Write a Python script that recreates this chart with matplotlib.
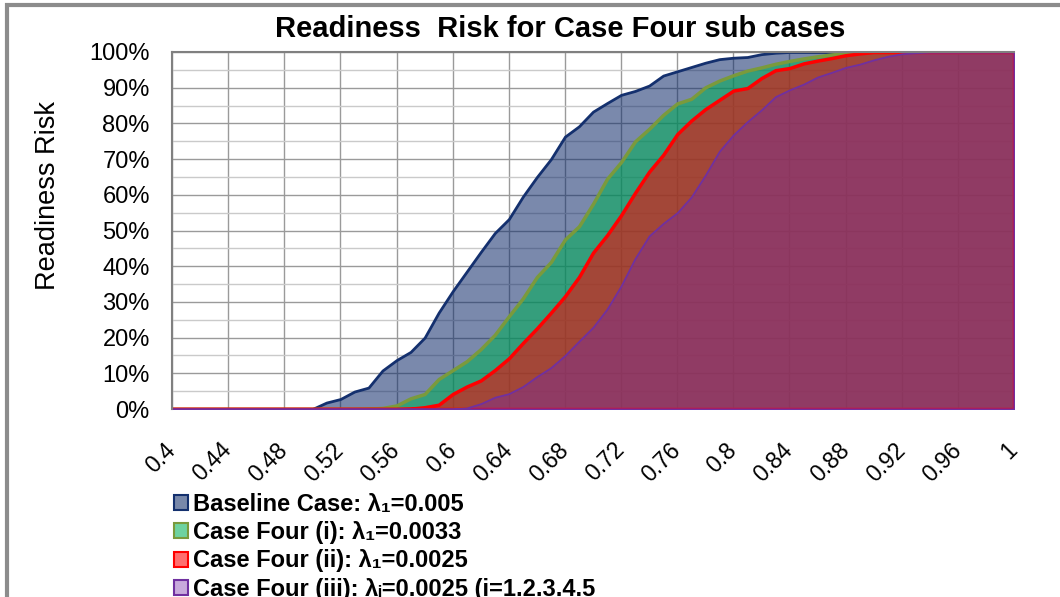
import matplotlib.pyplot as plt
from matplotlib.patches import Patch, Rectangle

# readiness level (x) and cumulative readiness risk in % for each case
readiness = [0.40, 0.41, 0.42, 0.43, 0.44, 0.45, 0.46, 0.47, 0.48, 0.49,
             0.50, 0.51, 0.52, 0.53, 0.54, 0.55, 0.56, 0.57, 0.58, 0.59,
             0.60, 0.61, 0.62, 0.63, 0.64, 0.65, 0.66, 0.67, 0.68, 0.69,
             0.70, 0.71, 0.72, 0.73, 0.74, 0.75, 0.76, 0.77, 0.78, 0.79,
             0.80, 0.81, 0.82, 0.83, 0.84, 0.85, 0.86, 0.87, 0.88, 0.89,
             0.90, 0.91, 0.92, 0.93, 0.94, 0.95, 0.96, 0.97, 0.98, 0.99,
             1.00]

baseline = [0.0] * 11 + [1.8, 2.8, 4.9, 6.0, 10.8, 13.7, 16.0, 20.0, 27.0,
            33.0, 38.5, 44.0, 49.3, 53.2, 59.5, 65.0, 70.0, 76.3, 79.2,
            83.3, 85.7, 88.0, 89.1, 90.6, 93.4, 94.6, 95.8, 97.0, 98.0,
            98.4, 98.6, 99.4, 99.8] + [100.0] * 17

case_i = [0.0] * 14 + [0.1, 0.3, 1.0, 3.0, 4.2, 8.4,
          10.9, 13.4, 16.8, 20.8, 26.0, 31.0, 37.0, 41.2, 47.5, 51.2,
          57.5, 64.5, 69.2, 75.0, 78.5, 82.4, 85.6, 86.9, 90.1, 92.0,
          93.5, 94.8, 95.7, 96.7, 97.5, 98.2, 98.8, 99.3, 99.7] + [100.0] * 12

case_ii = [0.0] * 17 + [0.1, 0.5, 1.2,
           4.2, 6.3, 8.0, 10.9, 14.2, 18.5, 22.6, 27.0, 31.6, 37.0,
           43.8, 48.7, 54.3, 60.6, 66.5, 71.2, 77.0, 80.8, 84.0, 86.6,
           89.2, 89.9, 92.7, 94.9, 95.5, 96.8, 97.6, 98.3, 99.1, 99.6] + [100.0] * 11

case_iii = [0.0] * 21 + [0.3, 1.5, 3.3, 4.3, 6.3, 9.1, 11.6, 15.0, 19.0,
            22.9, 28.0, 34.5, 42.2, 48.5, 52.0, 55.0, 59.4, 65.5, 72.2,
            76.8, 80.5, 83.8, 87.5, 89.4, 91.0, 93.0, 94.3, 95.7, 96.6,
            97.8, 98.8, 99.5, 99.8] + [100.0] * 7

labels = ["Baseline Case: λ₁=0.005",
          "Case Four (i): λ₁=0.0033",
          "Case Four (ii): λ₁=0.0025",
          "Case Four (iii): λᵢ=0.0025 (i=1.2.3.4.5"]
fills = [(0.05, 0.16, 0.41, 0.55), (0.0, 0.69, 0.34, 0.56),
         (1.0, 0.0, 0.0, 0.55), (0.46, 0.165, 0.655, 0.40)]
edges = ['#14306e', '#7a9a3c', '#ff0000', '#7030a0']
widths = [2.0, 2.5, 2.5, 1.3]
legend_faces = ['#7888aa', '#6ed2a0', '#ff6e6e', '#c8aadc']

xtick_vals = [0.4, 0.44, 0.48, 0.52, 0.56, 0.6, 0.64, 0.68, 0.72, 0.76,
              0.8, 0.84, 0.88, 0.92, 0.96, 1.0]
xtick_labels = ['0.4', '0.44', '0.48', '0.52', '0.56', '0.6', '0.64', '0.68',
                '0.72', '0.76', '0.8', '0.84', '0.88', '0.92', '0.96', '1']
ytick_vals = [0, 10, 20, 30, 40, 50, 60, 70, 80, 90, 100]
ytick_labels = ['0%', '10%', '20%', '30%', '40%', '50%', '60%', '70%',
                '80%', '90%', '100%']

plt.rcParams['font.family'] = ['Liberation Sans', 'DejaVu Sans']

fig = plt.figure(figsize=(10.6, 5.97), dpi=100)
W, H = 1060, 597
ax = fig.add_axes([172 / W, 1 - 409 / H, (1014 - 172) / W, (409 - 52) / H])

series = [baseline, case_i, case_ii, case_iii]
for vals, fc, ec, lw in zip(series, fills, edges, widths):
    ax.fill_between(readiness, 0, vals, facecolor=fc, edgecolor=ec,
                    linewidth=lw, zorder=2)

ax.set_xlim(0.4, 1.0)
ax.set_ylim(0, 100)
ax.set_xticks(xtick_vals)
ax.set_xticklabels(xtick_labels, rotation=45, ha='right', va='center',
                   rotation_mode='anchor', fontsize=16.5)
ax.set_yticks(ytick_vals)
ax.set_yticklabels(ytick_labels, fontsize=17)
ax.set_yticks(range(5, 100, 10), minor=True)
ax.tick_params(axis='x', length=0, pad=27)
ax.tick_params(axis='y', which='both', length=0, pad=16)
ax.set_axisbelow(True)
ax.grid(axis='x', color='#9a9a9a', linewidth=1)
ax.grid(axis='y', which='major', color='#9a9a9a', linewidth=1)
ax.grid(axis='y', which='minor', color='#cacaca', linewidth=1)
for s in ['top', 'left']:
    ax.spines[s].set_color('#808080')
    ax.spines[s].set_linewidth(1.5)
for s in ['bottom', 'right']:
    ax.spines[s].set_visible(False)

fig.text(560 / W, 1 - 29 / H, 'Readiness  Risk for Case Four sub cases',
         ha='center', va='center', fontsize=21, fontweight='bold')
fig.text(48 / W, 1 - 196 / H, 'Readiness Risk', rotation=90,
         ha='center', va='center', fontsize=19.5)

handles = [Patch(facecolor=f, edgecolor=e, linewidth=1.5)
           for f, e in zip(legend_faces, edges)]
fig.legend(handles, labels, loc='upper left',
           bbox_to_anchor=(174 / W, 1 - 493 / H), frameon=False,
           borderpad=0, borderaxespad=0, handlelength=0.6, handleheight=0.6,
           handletextpad=0.22, labelspacing=0.22,
           prop={'family': ['Liberation Sans', 'DejaVu Sans'],
                 'weight': 'bold', 'size': 17})

# outer chart frame
fig.add_artist(Rectangle((7 / W, -0.01), 1.1, 1 - 5 / H + 0.01,
                         transform=fig.transFigure, fill=False,
                         edgecolor='#8c8c8c', linewidth=3))

fig.savefig('out.png', dpi=100)
